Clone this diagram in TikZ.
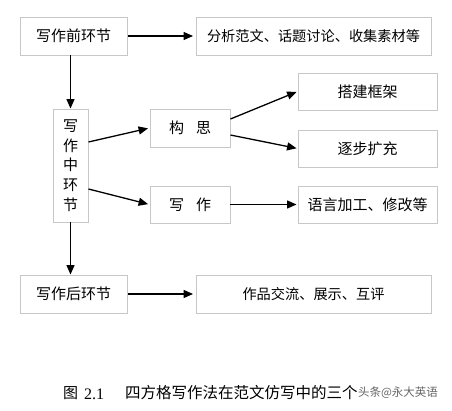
\documentclass[tikz,border=0pt]{standalone}
\usepackage{fontspec}
\setmainfont{Liberation Serif}
\newfontfamily\cjk{Noto Sans CJK SC}
\usetikzlibrary{arrows.meta}
\begin{document}
\begin{tikzpicture}[x=1pt,y=-1pt,
  bx/.style={draw=black!22,line width=0.9pt,rectangle,inner sep=0pt,font=\cjk\fontsize{15}{17}\selectfont},
  wide/.style={font=\cjk\fontsize{14.2}{16}\selectfont},
  arr/.style={draw=black,line width=1.3pt,-{Triangle[length=9.5pt,width=8pt]}}]
\useasboundingbox[fill=white] (0,0) rectangle (452,410);
\node[bx,minimum width=107pt,minimum height=38pt] (pre) at (73.5,36) {写作前环节};
\node[bx,wide,minimum width=235pt,minimum height=38pt] (ana) at (313.5,36) {分析范文、话题讨论、收集素材等};
\node[bx,minimum width=35pt,minimum height=113pt,align=center,font=\cjk\fontsize{15}{19.7}\selectfont] (mid) at (70.5,165.5) {写\\作\\中\\环\\节};
\node[bx,minimum width=80pt,minimum height=38pt] (gou) at (190,128) {构\hspace{0.8em}思};
\node[bx,minimum width=80pt,minimum height=37pt] (xie) at (190,204.5) {写\hspace{0.8em}作};
\node[bx,minimum width=139pt,minimum height=37pt] (da) at (367.5,91.5) {搭建框架};
\node[bx,minimum width=139pt,minimum height=37pt] (zhu) at (367.5,148.5) {逐步扩充};
\node[bx,minimum width=139pt,minimum height=37pt] (yu) at (367.5,204.5) {语言加工、修改等};
\node[bx,minimum width=107pt,minimum height=38pt] (post) at (73.5,294) {写作后环节};
\node[bx,wide,minimum width=235pt,minimum height=38pt] (zuo) at (313.5,294) {作品交流、展示、互评};
% arrows
\draw[arr,shorten <=1pt,shorten >=2.5pt] (pre.east) -- (ana.west);
\draw[arr] (pre.south -| mid.north) -- (mid.north);
\draw[arr,shorten >=1.5pt] ([yshift=23.5pt]mid.east) -- (gou.west);
\draw[arr,shorten >=1.5pt] ([yshift=-23.5pt]mid.east) -- (xie.west);
\draw[arr,shorten >=1pt] ([yshift=9pt]gou.east) -- (da.west);
\draw[arr,shorten >=1pt] ([yshift=-7pt]gou.east) -- (zhu.west);
\draw[arr,shorten >=1pt] (xie.east) -- (yu.west);
\draw[arr] (mid.south) -- (mid.south |- post.north);
\draw[arr,shorten <=1pt,shorten >=2.5pt] (post.east) -- (zuo.west);
% caption
\node[anchor=west,inner sep=0pt,font=\cjk\fontsize{15}{17}\selectfont] (fig) at (63,393) {图};
\node[anchor=west,inner sep=0pt,font=\fontsize{16}{18}\selectfont] (num) at (84,394) {2.1};
\node[anchor=west,inner sep=0pt,font=\cjk\fontsize{15.5}{17}\selectfont] (cap) at (125,393) {四方格写作法在范文仿写中的三个};
\node[anchor=west,inner sep=0pt,text=black!60,font=\cjk\fontsize{11.5}{14}\selectfont] (wm) at (cap.east) {头条@永大英语};
\end{tikzpicture}
\end{document}
